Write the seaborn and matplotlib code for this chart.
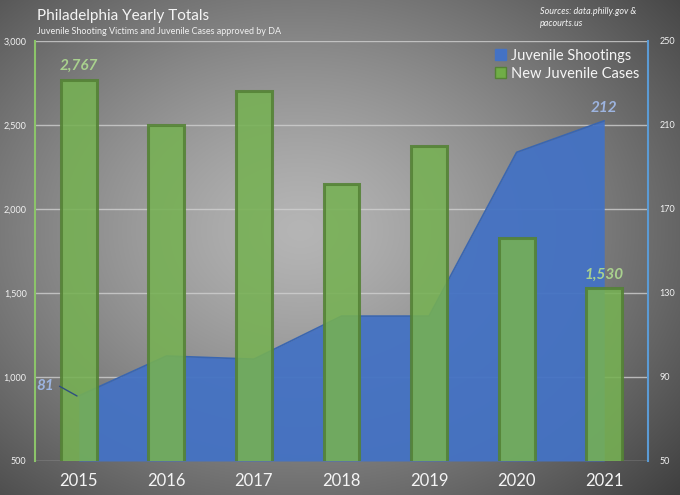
import numpy as np
import pandas as pd
import matplotlib
matplotlib.use("Agg")
import matplotlib.pyplot as plt
import seaborn as sns
from matplotlib.ticker import FuncFormatter
from matplotlib.patches import Patch

years = ["2015", "2016", "2017", "2018", "2019", "2020", "2021"]
juvenile_cases = [2767, 2500, 2703, 2149, 2377, 1827, 1530]
juvenile_shootings = [81, 100, 98.5, 119, 119, 197, 212]
left_ticks = [500, 1000, 1500, 2000, 2500, 3000]
right_ticks = [50, 90, 130, 170, 210, 250]

sns.set_theme(style="white")
plt.rcParams['font.family'] = ['Lato', 'DejaVu Sans']

df = pd.DataFrame({"year": years, "cases": juvenile_cases, "shootings": juvenile_shootings})

fig = plt.figure(figsize=(6.8, 4.95), dpi=100)

# background radial gradient
bg = fig.add_axes([0, 0, 1, 1], zorder=-10)
H, W = 495, 680
yy, xx = np.mgrid[0:H, 0:W]
cx, cy = 300, 230
r = np.sqrt(((xx - cx) / 430.0) ** 2 + ((yy - cy) / 330.0) ** 2)
val = np.clip(0.71 - 0.37 * r ** 1.3, 0.25, 1)
bg.imshow(np.dstack([val, val, val]), aspect="auto", extent=[0, 1, 0, 1], origin="upper")
bg.axis("off")

ax = fig.add_axes([35 / 680, 34 / 495, 613 / 680, 420 / 495])
ax2 = ax.twinx()
ax.set_zorder(ax2.get_zorder() + 1)
ax.patch.set_visible(False)
ax2.patch.set_visible(False)

# area on secondary axis
xpos = np.arange(len(years))
ax2.fill_between(xpos, 50, df["shootings"], color="#4472C4", alpha=0.95, lw=0, zorder=2)
sns.lineplot(x=xpos, y=df["shootings"], ax=ax2, color="#3a66b0", lw=1.2, zorder=3)
ax2.set_ylim(50, 250)
ax2.set_yticks(right_ticks)
ax2.set_ylabel("")

# bars on primary axis
sns.barplot(data=df, x="year", y="cases", ax=ax, color="#76b153", width=0.41,
            edgecolor="#548235", linewidth=2.2, alpha=0.88, saturation=1, zorder=3)
ax.set_ylim(500, 3000)
ax.set_xlim(-0.5, 6.5)
ax.set_yticks(left_ticks)
ax.yaxis.set_major_formatter(FuncFormatter(lambda v, p: f"{int(v):,}"))
ax.set_xlabel("")
ax.set_ylabel("")

# gridlines
for t in left_ticks:
    ax2.axhline((t - 500) / 2500 * 200 + 50, color="#d0d0d0", lw=1.0, alpha=0.8, zorder=1)

# spines
for s in ["top", "bottom"]:
    ax.spines[s].set_visible(False)
    ax2.spines[s].set_visible(False)
ax.spines["right"].set_visible(False)
ax.spines["left"].set_color("#8cc46a")
ax.spines["left"].set_linewidth(1.5)
ax2.spines["left"].set_visible(False)
ax2.spines["right"].set_color("#5b9bd5")
ax2.spines["right"].set_linewidth(1.5)

ax.tick_params(axis="y", colors="#f2f2f2", labelsize=6.5, length=0, pad=6)
ax.tick_params(axis="x", colors="#f2f2f2", labelsize=12, length=0, pad=9)
ax2.tick_params(axis="y", colors="#f2f2f2", labelsize=6.5, length=0, pad=8)
for lab in ax.get_xticklabels():
    lab.set_color("#f5f5f5")

# data labels
ax.text(0, juvenile_cases[0] + 45, f"{juvenile_cases[0]:,}", ha="center", va="bottom",
        color="#a9d18e", fontsize=11, fontstyle="italic", fontweight="bold", zorder=5)
ax.text(6, juvenile_cases[6] + 35, f"{juvenile_cases[6]:,}", ha="center", va="bottom",
        color="#a9d18e", fontsize=11, fontstyle="italic", fontweight="bold", zorder=5)
ax2.text(6, juvenile_shootings[6] + 3, f"{juvenile_shootings[6]}", ha="center", va="bottom",
         color="#9db4e0", fontsize=11, fontstyle="italic", fontweight="bold", zorder=5)
ax.text(-0.48, 945, f"{juvenile_shootings[0]}", ha="left", va="center",
        color="#9db4e0", fontsize=11, fontstyle="italic", fontweight="bold", zorder=5)
ax.plot([-0.22, -0.02], [945, 887], color="#2f4f80", lw=1, zorder=5)

# legend
handles = [Patch(facecolor="#4472C4", edgecolor="#4472C4", label="Juvenile Shootings"),
           Patch(facecolor="#70ad47", edgecolor="#548235", label="New Juvenile Cases")]
leg = ax.legend(handles=handles, loc="upper right", frameon=False, fontsize=10.5,
                handlelength=0.8, handleheight=0.8, handletextpad=0.3,
                labelspacing=0.25, borderaxespad=0.0, bbox_to_anchor=(0.995, 0.995))
for t in leg.get_texts():
    t.set_color("#f5f5f5")

# titles
fig.text(37 / 680, 1 - 16 / 495, "Philadelphia Yearly Totals", color="#f5f5f5",
         fontsize=11, ha="left", va="center")
fig.text(37 / 680, 1 - 31 / 495, "Juvenile Shooting Victims and Juvenile Cases approved by DA",
         color="#f0f0f0", fontsize=6.5, ha="left", va="center")
fig.text(540 / 680, 1 - 7 / 495, "Sources: data.philly.gov &\npacourts.us", color="#f5f5f5",
         fontsize=6.5, fontstyle="italic", ha="left", va="top", linespacing=1.5)

fig.savefig("out.png", dpi=100)
